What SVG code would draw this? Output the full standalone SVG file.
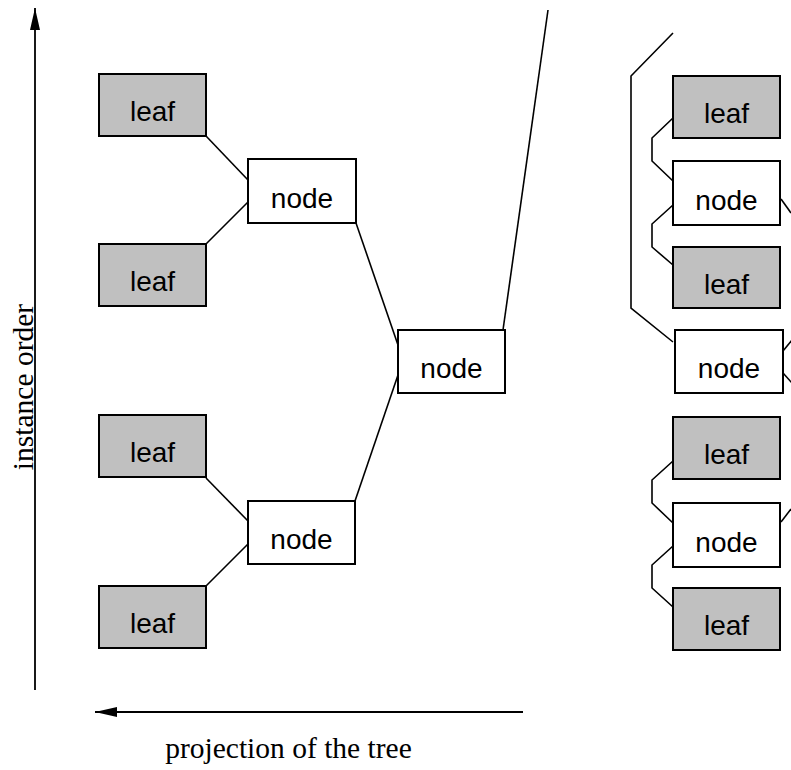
<svg xmlns="http://www.w3.org/2000/svg" width="791" height="770" viewBox="0 0 791 770">
<style>
.leaf rect{fill:#c0c0c0;stroke:#000;stroke-width:2}
.node rect{fill:#fff;stroke:#000;stroke-width:2}
.lbl{font-family:"Liberation Sans",Arial,sans-serif;font-size:28px;text-anchor:middle;fill:#000}
.ax{font-family:"Liberation Serif","Times New Roman",serif;font-size:29.5px;text-anchor:middle;fill:#000}
#connectors line,#connectors polyline{stroke:#000;stroke-width:1.6;fill:none}
</style>
<defs>
<marker id="ah" viewBox="0 0 22 10" refX="22" refY="5" markerWidth="22" markerHeight="10" markerUnits="userSpaceOnUse" orient="auto">
<path d="M0,0 L22,5 L0,10 z" fill="#000"/>
</marker>
</defs>
<rect width="791" height="770" fill="#fff"/>
<g id="axes">
<line x1="35" y1="690" x2="35" y2="8" stroke="#000" stroke-width="1.8" marker-end="url(#ah)"/>
<line x1="523" y1="712" x2="95" y2="712" stroke="#000" stroke-width="1.8" marker-end="url(#ah)"/>
<text class="ax" transform="translate(33,387) rotate(-90)">instance order</text>
<text class="ax" x="288.5" y="758">projection of the tree</text>
</g>
<g id="connectors">
<line x1="206" y1="136" x2="248" y2="180"/>
<line x1="206" y1="244" x2="248" y2="202"/>
<line x1="206" y1="478" x2="248" y2="521"/>
<line x1="206" y1="586" x2="248" y2="544"/>
<line x1="356" y1="223" x2="398" y2="345"/>
<line x1="355" y1="501" x2="398" y2="375"/>
<line x1="503" y1="330" x2="548" y2="10"/>
<polyline points="673,33 631,76 631,308 673,342"/>
<polyline points="673,118 652,138 652,161 673,181"/>
<polyline points="673,205 652,224 652,247 673,265"/>
<polyline points="673,461 652,480 652,503 673,523"/>
<polyline points="673,546 652,565 652,588 673,607"/>
<line x1="781" y1="199" x2="791" y2="213"/>
<line x1="783" y1="351" x2="792" y2="340"/>
<line x1="783" y1="373" x2="792" y2="383"/>
<line x1="781" y1="522" x2="791" y2="509"/>
</g>
<g id="leaf1" class="leaf"><rect x="99" y="74" width="107" height="62"/><text class="lbl" x="152.5" y="121">leaf</text></g>
<g id="leaf2" class="leaf"><rect x="99" y="244" width="107" height="62"/><text class="lbl" x="152.5" y="291">leaf</text></g>
<g id="leaf3" class="leaf"><rect x="99" y="415" width="107" height="62"/><text class="lbl" x="152.5" y="462">leaf</text></g>
<g id="leaf4" class="leaf"><rect x="99" y="586" width="107" height="62"/><text class="lbl" x="152.5" y="633">leaf</text></g>
<g id="node1" class="node"><rect x="248" y="159" width="108" height="64"/><text class="lbl" x="302" y="208">node</text></g>
<g id="node2" class="node"><rect x="248" y="501" width="107" height="63"/><text class="lbl" x="301.5" y="549">node</text></g>
<g id="node3" class="node"><rect x="398" y="330" width="107" height="63"/><text class="lbl" x="451.5" y="378">node</text></g>
<g id="rleaf1" class="leaf"><rect x="673" y="76" width="107" height="62"/><text class="lbl" x="726.5" y="123">leaf</text></g>
<g id="rnode1" class="node"><rect x="673" y="161" width="107" height="64"/><text class="lbl" x="726.5" y="210">node</text></g>
<g id="rleaf2" class="leaf"><rect x="673" y="247" width="107" height="61"/><text class="lbl" x="726.5" y="294">leaf</text></g>
<g id="rnode2" class="node"><rect x="675" y="330" width="108" height="63"/><text class="lbl" x="729" y="378">node</text></g>
<g id="rleaf3" class="leaf"><rect x="673" y="417" width="107" height="62"/><text class="lbl" x="726.5" y="464">leaf</text></g>
<g id="rnode3" class="node"><rect x="673" y="503" width="107" height="64"/><text class="lbl" x="726.5" y="552">node</text></g>
<g id="rleaf4" class="leaf"><rect x="673" y="588" width="107" height="62"/><text class="lbl" x="726.5" y="635">leaf</text></g>
</svg>
